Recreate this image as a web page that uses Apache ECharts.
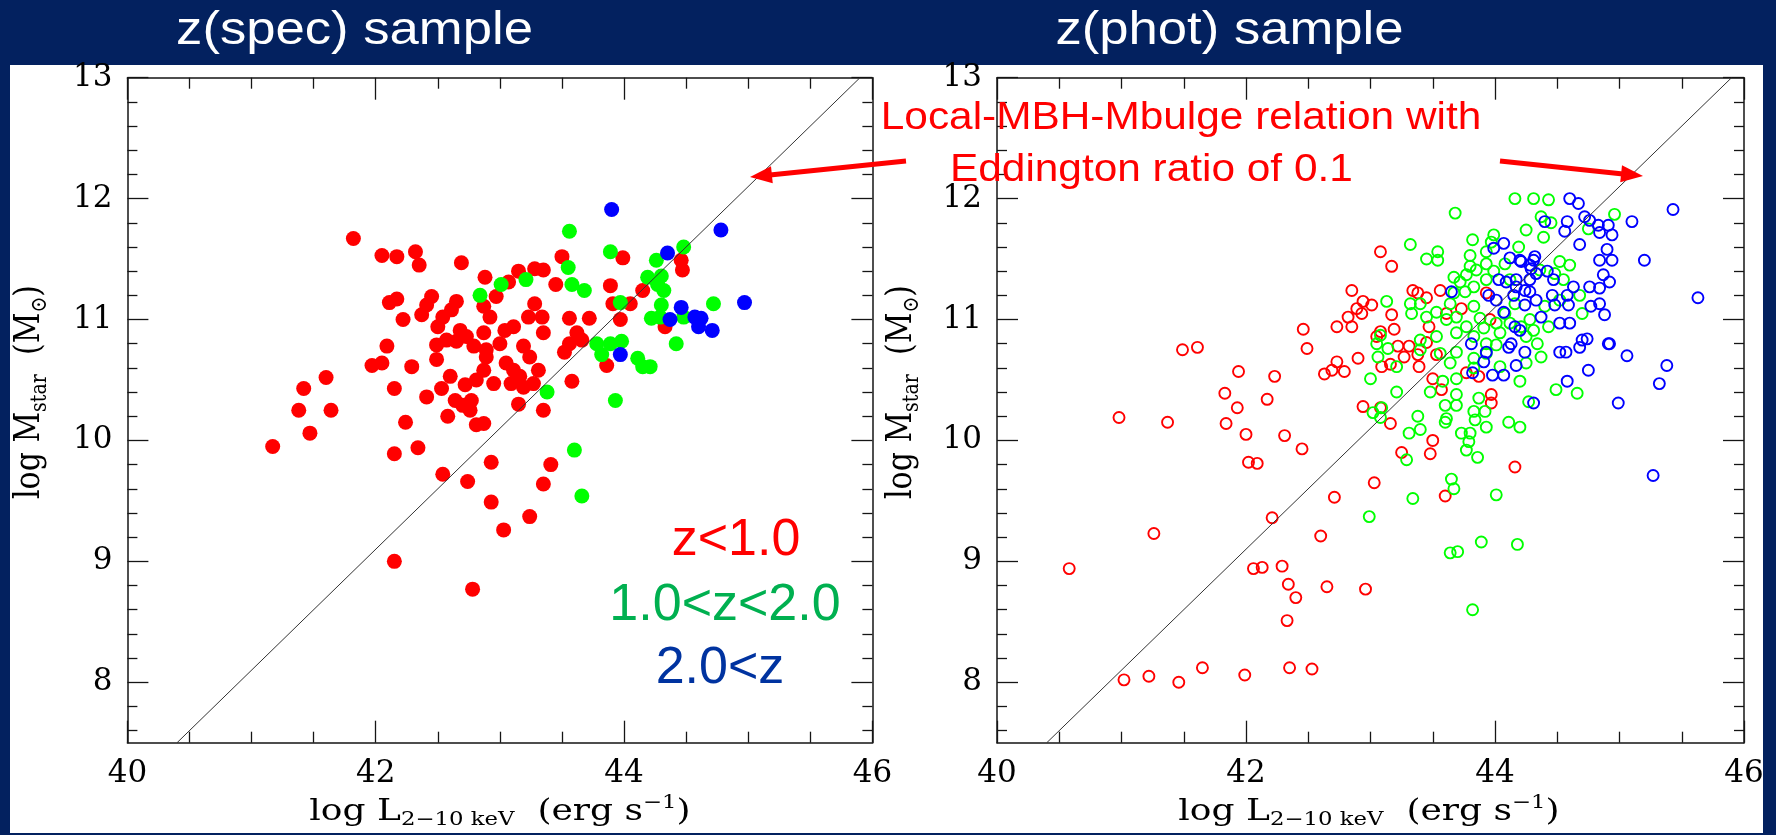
<!DOCTYPE html>
<html>
<head>
<meta charset="utf-8">
<script src="https://cdn.jsdelivr.net/npm/echarts@6/dist/echarts.min.js"></script>
<style>
html,body{margin:0;padding:0;background:#03215f;}
#c{width:1776px;height:835px;}
</style>
</head>
<body>
<div id="c"></div>
<script>
// ---------------- data ----------------
const panelTitles = ['z(spec) sample', 'z(phot) sample'];
const xTicks = [40, 42, 44, 46];
const yTicks = [8, 9, 10, 11, 12, 13];
const yMinorTicks = [7.6, 7.8, 8.2, 8.4, 8.6, 8.8, 9.2, 9.4, 9.6, 9.8, 10.2, 10.4, 10.6, 10.8, 11.2, 11.4, 11.6, 11.8, 12.2, 12.4, 12.6, 12.8];
const legendLabels = ['z<1.0', '1.0<z<2.0', '2.0<z'];
const annotationLines = ['Local-MBH-Mbulge relation with', 'Eddington ratio of 0.1'];
const xAxisName = '{n|log L}{sub|2\u221210 keV}{n|  (erg s}{sup|\u22121}{n|)}';
const yAxisName = '{n|log M}{sub|star}{n|  (M}{sub|\u2299}{n|)}';

// Local MBH-Mbulge relation (Eddington ratio 0.1): end points
const relationLine = [[40.4, 7.5], [45.9, 13.0]];

// z(spec) sample: filled symbols
const specRed = [
[41.82,11.67],[42.05,11.53],[42.17,11.52],[42.32,11.56],[42.35,11.45],[42.69,11.47],[42.88,11.35],
[42.11,11.14],[42.17,11.17],[42.22,11.00],[42.45,11.19],[42.41,11.12],[42.37,11.04],[42.65,11.15],[42.61,11.08],
[42.50,10.94],[42.54,11.02],[42.68,10.91],[42.49,10.79],[42.57,10.83],[42.65,10.82],[42.73,10.86],[42.79,10.78],
[42.87,10.89],[42.92,11.02],[42.87,11.11],[42.97,11.19],[42.89,10.75],[42.49,10.67],[42.09,10.78],[41.97,10.62],
[42.05,10.64],[42.29,10.61],[42.15,10.43],[42.41,10.36],[42.53,10.43],[42.60,10.53],[42.72,10.46],[42.81,10.50],
[42.87,10.58],[42.95,10.47],[42.64,10.33],[42.70,10.29],[42.77,10.33],[42.76,10.25],[42.58,10.20],[42.81,10.13],
[42.24,10.15],[41.60,10.52],[41.42,10.43],[41.38,10.25],[41.64,10.25],[41.47,10.06],
[43.50,11.52],[43.99,11.51],[44.46,11.49],[44.47,11.41],[43.15,11.40],[43.28,11.42],[43.35,11.41],[43.07,11.31],
[43.45,11.29],[43.89,11.28],[44.15,11.24],[43.91,11.13],[44.05,11.13],[43.97,11.00],[44.33,10.94],[43.28,11.13],
[43.23,11.02],[43.34,11.02],[43.35,10.89],[43.11,10.94],[43.04,10.91],[43.56,11.01],[43.72,11.01],[43.62,10.89],
[43.56,10.80],[43.52,10.73],[43.66,10.83],[43.19,10.78],[43.24,10.69],[43.05,10.64],[43.11,10.58],[43.16,10.53],
[43.31,10.58],[43.27,10.47],[43.09,10.47],[43.19,10.44],[43.58,10.49],[43.86,10.62],[43.15,10.30],[43.35,10.25],
[42.87,10.14],[42.89,10.69],[43.00,10.80],
[41.17,9.95],[42.15,9.89],[42.34,9.94],[42.54,9.72],[42.74,9.66],[42.93,9.82],[43.41,9.80],[43.35,9.64],
[42.93,9.49],[43.24,9.37],[43.03,9.26],[42.15,9.00],[42.78,8.77]
];
const specGreen = [
[42.84,11.20],[43.56,11.73],[43.89,11.56],[44.48,11.60],[44.26,11.49],[43.55,11.43],[44.19,11.35],[44.30,11.36],
[44.32,11.24],[44.27,11.29],[44.30,11.12],[44.22,11.01],[44.29,11.02],[43.58,11.29],[43.68,11.24],[43.21,11.33],
[43.01,11.29],[43.97,11.14],[44.72,11.13],[44.48,11.02],[43.78,10.80],[43.89,10.80],[43.98,10.82],[43.82,10.71],
[44.11,10.68],[44.15,10.61],[44.21,10.61],[44.42,10.80],[43.38,10.40],[43.93,10.33],[43.60,9.92],[43.66,9.54]
];
const specBlue = [
[43.90,11.91],[44.78,11.74],[44.35,11.55],[44.46,11.10],[44.37,11.00],[44.57,11.02],[44.62,11.01],[44.60,10.94],
[44.71,10.91],[44.97,11.14],[43.97,10.71]
];

// z(phot) sample: open symbols
const photRed = [
[42.46,10.92],[42.73,10.94],[42.49,10.76],[41.49,10.75],[41.61,10.77],[41.94,10.57],[42.23,10.53],[42.63,10.55],
[42.69,10.58],[42.73,10.65],[41.83,10.39],[42.17,10.34],[41.93,10.27],[40.98,10.19],[41.37,10.15],[41.84,10.14],
[42.00,10.05],[42.31,10.04],[42.45,9.93],[42.02,9.82],[42.09,9.81],[42.71,9.53],[42.21,9.36],[42.60,9.21],
[41.26,9.23],[40.58,8.94],[42.06,8.94],[42.13,8.95],[42.29,8.96],[42.34,8.81],[42.65,8.79],[42.40,8.70],
[42.33,8.51],[41.02,8.02],[41.22,8.05],[41.46,8.00],[41.65,8.12],[41.99,8.06],[42.35,8.12],[42.53,8.11],
[43.03,9.65],[43.60,9.54],[42.96,8.77],[44.16,9.78],[43.48,9.89],[43.25,9.90],[43.50,10.00],[43.16,10.14],
[42.79,10.57],[42.90,10.68],[43.09,10.61],[43.16,10.63],[43.22,10.78],[43.27,10.69],[43.31,10.78],[43.38,10.71],
[43.39,10.61],[43.45,10.81],[43.53,10.71],[43.50,10.51],[43.57,10.42],[43.77,10.56],[43.87,10.53],[43.97,10.38],
[43.97,10.31],[42.94,10.28],[43.08,10.27],
[43.08,11.56],[43.17,11.44],[42.85,11.24],[42.94,11.15],[43.01,11.12],[42.89,11.09],[42.93,11.05],[42.82,11.02],
[42.85,10.94],[43.17,11.04],[43.19,10.92],[43.08,10.90],[43.05,10.86],[43.34,11.24],[43.38,11.22],[43.45,11.18],
[43.56,11.24],[43.47,10.94],[43.61,11.05],[43.73,11.09],[43.93,11.22],[43.96,11.00]
];
const photGreen = [
[42.99,9.37],[43.34,9.52],[43.65,9.68],[43.67,9.60],[44.01,9.55],[43.64,9.07],[43.70,9.08],[43.89,9.16],
[44.18,9.14],[43.82,8.60],[43.29,9.84],[43.77,9.92],[43.86,9.86],[43.31,10.06],[43.40,10.09],[43.73,10.06],
[43.80,10.06],[43.93,10.11],[44.20,10.11],[44.11,10.15],[43.79,9.99],[43.60,10.15],
[43.06,10.69],[43.14,10.76],[43.21,10.61],[43.00,10.51],[43.21,10.40],[43.02,10.23],[43.08,10.19],[43.09,10.27],
[43.38,10.20],[43.48,10.40],[43.58,10.49],[43.60,10.29],[43.61,10.18],[43.69,10.38],[43.69,10.29],[43.69,10.51],
[43.64,10.64],[43.83,10.68],[43.83,10.60],[43.87,10.35],[43.83,10.24],[43.92,10.24],[43.84,10.17],[44.27,10.32],
[44.04,10.61],[44.20,10.49],[44.25,10.64],[43.56,10.72],[43.40,10.75],[43.05,10.80],[43.69,10.73],[43.93,10.72],
[44.01,10.79],[44.34,10.80],[44.37,10.69],[44.49,10.42],[44.66,10.39],[43.33,11.05],
[44.16,12.00],[44.31,12.00],[43.68,11.88],[44.25,11.74],[43.32,11.62],[43.82,11.66],[43.99,11.70],[43.97,11.64],
[44.19,11.60],[43.45,11.50],[43.54,11.56],[43.54,11.49],[43.80,11.53],[43.93,11.56],[43.93,11.46],[44.08,11.46],
[43.80,11.44],[43.67,11.35],[43.72,11.31],[43.77,11.37],[43.85,11.41],[43.99,11.40],[43.83,11.27],[43.93,11.33],
[43.67,11.22],[43.76,11.23],[43.64,11.13],[43.69,11.02],[43.83,11.11],[43.88,11.01],[43.77,10.94],[43.91,10.93],
[43.83,10.86],[43.93,10.80],[44.01,10.97],[44.04,10.89],[44.08,11.05],[44.16,11.13],[44.12,10.97],[44.12,11.33],
[44.28,11.00],[44.25,10.86],[43.13,11.15],[43.32,11.13],[43.40,11.13],[43.53,11.06],[43.45,11.02],[43.61,11.00],
[43.53,10.86],[43.69,10.89],[43.40,10.83],[43.08,10.87],
[44.43,11.99],[44.37,11.85],[44.45,11.80],[44.39,11.68],[44.75,11.75],[44.96,11.87],[44.60,11.45],[44.52,11.48],
[44.48,11.38],[44.36,11.41],[44.55,11.33],[44.68,11.20],[44.52,11.16],[44.40,11.11],[44.70,11.05],[44.43,10.94],
[44.31,10.91],[44.21,10.94]
];
const photBlue = [
[43.82,10.56],[43.91,10.65],[44.07,10.54],[44.17,10.62],[44.24,10.73],[44.11,10.77],[43.81,10.80],[44.31,10.31],
[43.98,10.54],[43.93,10.73],
[44.52,10.73],[44.57,10.73],[44.68,10.77],[44.92,10.80],[45.06,10.70],[45.38,10.62],[45.32,10.47],[44.75,10.58],
[44.58,10.49],[44.99,10.31],[45.27,9.71],
[43.99,11.59],[44.07,11.63],[44.12,11.51],[44.20,11.49],[44.29,11.42],[44.31,11.49],[44.28,11.33],[44.33,11.38],
[44.03,11.33],[44.09,11.31],[44.17,11.33],[44.17,11.27],[44.24,11.24],[44.28,11.23],[44.01,11.16],[44.15,11.20],
[44.24,11.12],[44.33,11.16],[43.95,11.20],[43.65,11.23],[44.07,11.06],[44.16,10.94],[44.20,10.91],[44.13,10.80],
[44.60,12.00],[44.67,11.96],[44.40,11.81],[44.58,11.81],[44.56,11.73],[44.72,11.85],[44.76,11.82],[44.83,11.78],
[44.91,11.78],[44.84,11.72],[44.94,11.70],[45.10,11.81],[45.43,11.91],[44.68,11.62],[44.90,11.58],[44.84,11.49],
[44.94,11.49],[45.20,11.49],[44.87,11.37],[44.92,11.31],[44.84,11.26],[44.76,11.27],[44.63,11.27],[44.58,11.20],
[44.47,11.33],[44.42,11.40],[44.32,11.52],[44.28,11.45],[44.46,11.20],[44.48,11.12],[44.59,11.12],[44.77,11.11],
[44.84,11.13],[44.88,11.04],[44.37,11.02],[44.52,10.97],[44.60,10.97],[44.70,10.83],[44.74,10.84],[44.91,10.80],
[45.63,11.18],[44.21,11.48]
];

// ---------------- style / layout ----------------
const NAVY = '#03215f';
const AXC = '#151515';
const RED = '#ff0000', GREEN = '#00ff00', BLUE = '#0000ff';
const TICK_FONT = '"DejaVu Serif", "Liberation Serif", serif';
const SANS = '"Liberation Sans", Arial, sans-serif';

const grids = [
  {left: 127.4, right: 903.6, top: 77.7, bottom: 92.3, outerBoundsMode: 'none'},
  {left: 997, right: 32, top: 77.7, bottom: 92.3, outerBoundsMode: 'none'}
];

function makeX(g, pos, showLabel) {
  return {
    type: 'value', gridIndex: g, position: pos, min: 40, max: 46, interval: 2,
    axisLine: {show: true, onZero: false, lineStyle: {color: AXC, width: 1.5}},
    axisTick: {show: true, inside: true, length: 22, lineStyle: {color: AXC, width: 1.3}},
    minorTick: {show: true, splitNumber: 4, length: 11, lineStyle: {color: AXC, width: 1.3}},
    axisLabel: {show: showLabel, customValues: xTicks, margin: 16, color: '#000', fontFamily: TICK_FONT, fontSize: 31,
                showMinLabel: true, showMaxLabel: true},
    splitLine: {show: false}, minorSplitLine: {show: false}
  };
}
function makeY(g, pos, major, showLabel) {
  return {
    type: 'value', gridIndex: g, position: pos, min: 7.5, max: 13,
    axisLine: {show: major, onZero: false, lineStyle: {color: AXC, width: 1.5}},
    axisTick: {show: true, inside: true, length: major ? 21 : 10, customValues: major ? yTicks : yMinorTicks,
               lineStyle: {color: AXC, width: 1.3}},
    axisLabel: {show: showLabel, customValues: yTicks, margin: 15, color: '#000', fontFamily: TICK_FONT, fontSize: 31,
                showMinLabel: true, showMaxLabel: true},
    splitLine: {show: false}
  };
}
const xAxes = [], yAxes = [];
for (let g = 0; g < 2; g++) {
  xAxes.push(makeX(g, 'bottom', true), makeX(g, 'top', false));
  yAxes.push(makeY(g, 'left', true, true), makeY(g, 'left', false, false),
             makeY(g, 'right', true, false), makeY(g, 'right', false, false));
}

function filled(data, color, xi, yi, z) {
  return {type: 'scatter', xAxisIndex: xi, yAxisIndex: yi, data: data, symbol: 'circle', symbolSize: 15,
          itemStyle: {color: color, opacity: 1}, z: z, silent: true};
}
function open(data, color, xi, yi, z) {
  return {type: 'scatter', xAxisIndex: xi, yAxisIndex: yi, data: data, symbol: 'circle', symbolSize: 11,
          itemStyle: {color: 'rgba(0,0,0,0)', borderColor: color, borderWidth: 1.9, opacity: 1}, z: z, silent: true};
}
function relation(xi, yi) {
  return {type: 'line', xAxisIndex: xi, yAxisIndex: yi, data: relationLine, showSymbol: false, symbol: 'none',
          lineStyle: {color: '#333', width: 1}, z: 6, silent: true};
}

const series = [
  filled(specRed, RED, 0, 0, 3), filled(specGreen, GREEN, 0, 0, 4), filled(specBlue, BLUE, 0, 0, 5), relation(0, 0),
  open(photRed, RED, 2, 4, 3), open(photGreen, GREEN, 2, 4, 4), open(photBlue, BLUE, 2, 4, 5), relation(2, 4)
];

// --------------- graphic texts / arrows ---------------
const nameRich = {
  n:   {fontFamily: TICK_FONT, fontSize: 30, lineHeight: 36, fill: '#000', color: '#000'},
  sub: {fontFamily: TICK_FONT, fontSize: 19, lineHeight: 8, verticalAlign: 'bottom', fill: '#000', color: '#000'},
  sup: {fontFamily: TICK_FONT, fontSize: 19, lineHeight: 30, verticalAlign: 'top', fill: '#000', color: '#000'}
};
function txt(text, x, y, size, color, sx, extra) {
  return Object.assign({
    type: 'text', x: x, y: y, scaleX: sx || 1, z: 60, silent: true,
    style: {text: text, fill: color, font: size + 'px ' + SANS, align: 'center', verticalAlign: 'middle',
            textAlign: 'center', textVerticalAlign: 'middle'}
  }, extra || {});
}
function arrow(tail, tip) {
  const dx = tip[0] - tail[0], dy = tip[1] - tail[1];
  const L = Math.sqrt(dx * dx + dy * dy), ux = dx / L, uy = dy / L;
  const hl = 22, hw = 8.5;
  const bx = tip[0] - ux * hl, by = tip[1] - uy * hl;
  return [
    {type: 'line', z: 60, silent: true, shape: {x1: tail[0], y1: tail[1], x2: bx + ux * 2, y2: by + uy * 2},
     style: {stroke: RED, lineWidth: 5}},
    {type: 'polygon', z: 60, silent: true,
     shape: {points: [[tip[0], tip[1]], [bx - uy * hw, by + ux * hw], [bx + uy * hw, by - ux * hw]]},
     style: {fill: RED}}
  ];
}
function axisNameX(cx) {
  return {type: 'text', x: cx, y: 812, scaleX: 1.2, z: 60, silent: true,
          style: {text: xAxisName, rich: nameRich, align: 'center', verticalAlign: 'middle',
                  textAlign: 'center', textVerticalAlign: 'middle', fill: '#000'}};
}
function axisNameY(cx) {
  return {type: 'text', x: cx, y: 392, rotation: Math.PI / 2, scaleY: 1.2, z: 60, silent: true,
          style: {text: yAxisName, rich: nameRich, align: 'center', verticalAlign: 'middle',
                  textAlign: 'center', textVerticalAlign: 'middle', fill: '#000'}};
}

const graphic = [
  {type: 'rect', z: -10, silent: true, shape: {x: 10, y: 65, width: 1753, height: 768}, style: {fill: '#ffffff'}},
  txt(panelTitles[0], 354.5, 31, 47, '#ffffff', 1.12),
  txt(panelTitles[1], 1229.5, 31, 47, '#ffffff', 1.12),
  axisNameX(500), axisNameX(1369),
  axisNameY(30), axisNameY(902),
  txt(legendLabels[0], 736, 540.3, 52, '#ff0000', 1),
  txt(legendLabels[1], 725, 605.3, 52, '#00b050', 1),
  txt(legendLabels[2], 720, 668.7, 52, '#0033a0', 1),
  txt(annotationLines[0], 1181, 118.9, 38, RED, 1.115),
  txt(annotationLines[1], 1151.4, 170.5, 38, RED, 1.115),
  ...arrow([906, 161], [750, 177]),
  ...arrow([1500, 161], [1643, 176]),
  {type: 'rect', z: 100, silent: true, shape: {x: 1763, y: 0, width: 13, height: 835}, style: {fill: NAVY}},
  {type: 'rect', z: 100, silent: true, shape: {x: 0, y: 833, width: 1776, height: 2}, style: {fill: NAVY}}
];

const chart = echarts.init(document.getElementById('c'), null, {renderer: 'canvas', width: 1776, height: 835});
chart.setOption({
  animation: false,
  backgroundColor: NAVY,
  grid: grids,
  xAxis: xAxes,
  yAxis: yAxes,
  series: series,
  graphic: graphic
});
</script>
</body>
</html>
